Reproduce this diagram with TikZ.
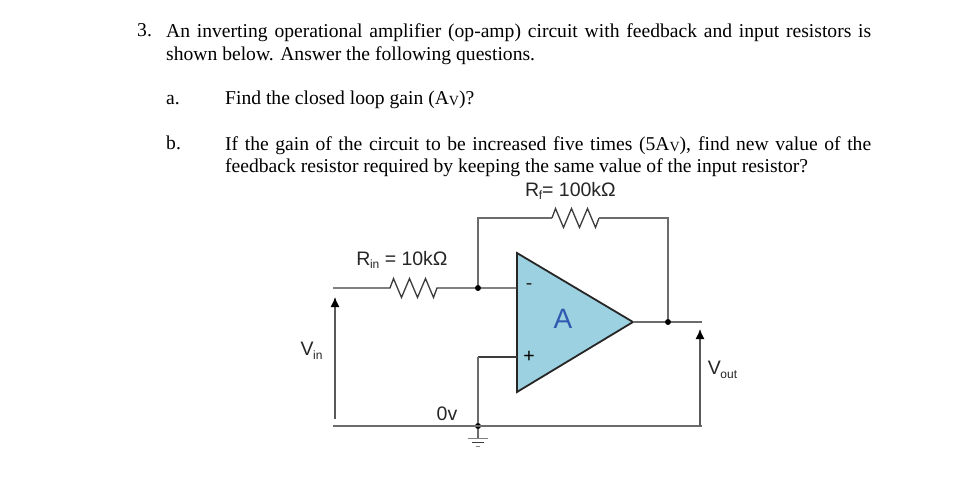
\documentclass[tikz,border=0pt]{standalone}
\usepackage{fontspec}
\setmainfont{Liberation Serif}
\newfontfamily\labelfont{Liberation Sans}
\usetikzlibrary{positioning,arrows.meta}
\definecolor{ampfill}{RGB}{155,209,224}
\definecolor{wiregray}{RGB}{60,60,60}
\definecolor{ablue}{RGB}{48,90,175}
\newcommand{\smallv}{\raisebox{-0.15ex}{\fontsize{14}{14}\selectfont V}}
\newcommand{\lowsub}[1]{\kern-0.5pt\raisebox{-0.35ex}{\fontsize{12}{12}\selectfont #1}}
\tikzset{
 question/.style={anchor=north west,inner sep=0pt,align=justify,font=\fontsize{19.6}{22}\selectfont},
 mark label/.style={anchor=base west,inner sep=0pt,font=\fontsize{19.6}{22}\selectfont},
 circuit label/.style={inner sep=0pt,text=black!85,font=\labelfont\fontsize{19.5}{19.5}\selectfont},
 wire/.style={line width=1.3,color=wiregray},
 thick wire/.style={line width=2,color=gray!85!black},
 volt/.style={line width=1.3,color=gray!70!black,-{Latex[length=10,width=9,color=black]}},
 junction/.style={circle,fill=black,inner sep=0pt,minimum size=6}
}
\begin{document}
\begin{tikzpicture}[x=1pt,y=-1pt]
\useasboundingbox (0,0) rectangle (977,503);
% question text
\node[mark label] (qnum) at (137,37) {3.};
\node[question,text width=705] (qtext) at (166,24) {An inverting operational amplifier (op-amp) circuit with feedback and input resistors is shown below. Answer the following questions.};
\node[mark label] (amark) at (166,104) {a.};
\node[mark label] (aline) at (225,104) {Find the closed loop gain (A\smallv)?};
\node[mark label] (bmark) at (166,149) {b.};
\node[question,text width=646] (btext) at (225,136) {If the gain of the circuit to be increased five times (5A\smallv), find new value of the feedback resistor required by keeping the same value of the input resistor?};
% op-amp
\coordinate (amptop) at (517,253);
\coordinate (amptip) at (633,322);
\coordinate (ampbot) at (517,392);
\draw[line width=1.8,color=black!85,fill=ampfill,line join=miter] (amptop) -- (amptip) -- (ampbot) -- cycle;
\node[circuit label,text=ablue,font=\labelfont\fontsize{28}{28}\selectfont] (gain) at (563,319) {A};
\node[circuit label] (minus) at (529,287) {-};
\node[circuit label,text=black] (plus) at (529,356.5) {+};
% circuit points
\coordinate (vinh) at (333,288);
\coordinate (rinl) at (390,288);
\coordinate (rinr) at (437,288);
\node[junction] (jin) at (478,288) {};
\coordinate (ampm) at (517,288);
\coordinate (fbl) at (478,218);
\coordinate (rfl) at (552,218);
\coordinate (rfr) at (599,218);
\coordinate (fbr) at (668,218);
\node[junction] (jout) at (668,322) {};
\coordinate (vouth) at (702,322);
\coordinate (ampp) at (517,357);
\coordinate (pluscorner) at (478,357);
\node[junction] (jgnd) at (478,426) {};
\coordinate (gndl) at (333,426);
\coordinate (gndr) at (702,426);
\coordinate (gndb) at (478,438);
% resistors
\draw[wire] (vinh) -- (rinl) -- ++(3.5,-9.5) -- ++(8,19) -- ++(8,-19) -- ++(8,19) -- ++(8,-19) -- ++(8,19) -- (rinr) -- (jin) -- (ampm);
\draw[thick wire,line width=1.6] (jin) -- (fbl) -- (rfl);
\draw[wire] (rfl) -- ++(3.5,-9.5) -- ++(8,19) -- ++(8,-19) -- ++(8,19) -- ++(8,-19) -- ++(8,19) -- (rfr);
\draw[thick wire,line width=1.6] (rfr) -- (fbr) -- (jout);
% output and ground
\draw[thick wire] (amptip) -- (jout) -- (vouth);
\draw[wire] (ampp) -- (pluscorner);
\draw[thick wire,line width=1.6] (pluscorner) -- (jgnd);
\draw[thick wire] (gndl) -- (gndr);
\draw[thick wire,line width=1.6] (jgnd) -- (gndb);
\draw[line width=1,color=gray] (468,438) -- (488,438);
\draw[line width=1,color=wiregray] (472,442) -- (484,442);
\draw[line width=1,color=gray] (476,446) -- (480,446);
% voltage arrows
\draw[volt] (335,419) -- (335,297);
\draw[volt] (700,426) -- (700,329);
% labels
\node[circuit label] (rinlabel) at (402,260) {R\lowsub{in}\ = 10kΩ};
\node[circuit label] (rflabel) at (570.5,191) {R\lowsub{f}= 100kΩ};
\node[circuit label] (vinlabel) at (311.5,351) {V\lowsub{in}};
\node[circuit label] (voutlabel) at (722.5,370) {V\lowsub{out}};
\node[circuit label] (zerov) at (447,414) {0v};
\end{tikzpicture}
\end{document}
